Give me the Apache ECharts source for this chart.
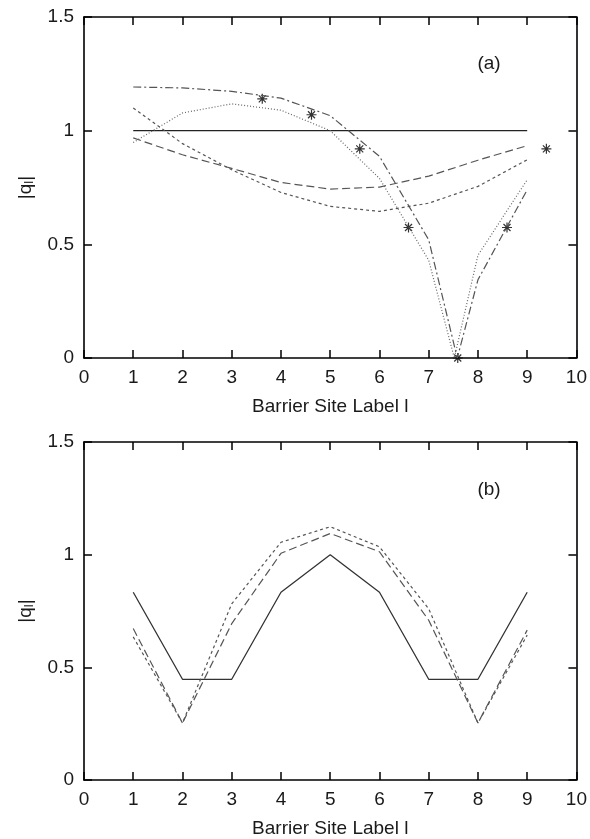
<!DOCTYPE html>
<html>
<head>
<meta charset="utf-8">
<script src="https://cdn.jsdelivr.net/npm/echarts@6/dist/echarts.min.js"></script>
<style>
  html, body { margin: 0; padding: 0; background: #fff; }
  #chart { width: 590px; height: 839px; }
</style>
</head>
<body>
<div id="chart"></div>
<script>
// barrier sites l = 1..9
var sites = [1, 2, 3, 4, 5, 6, 7, 8, 9];

// panel (a)
var aSolid = [1, 1, 1, 1, 1, 1, 1, 1, 1];
var aLongDash = [0.968, 0.894, 0.834, 0.772, 0.743, 0.752, 0.800, 0.870, 0.934];
var aShortDash = [1.100, 0.943, 0.828, 0.728, 0.667, 0.645, 0.681, 0.755, 0.872];
var aDottedX = [1, 2, 3, 4, 5, 6, 7, 7.52, 8, 9];
var aDottedY = [0.948, 1.078, 1.118, 1.090, 1.000, 0.790, 0.430, 0.0, 0.452, 0.784];
var aDashDotX = [1, 2, 3, 4, 5, 6, 7, 7.58, 8, 9];
var aDashDotY = [1.192, 1.188, 1.173, 1.143, 1.066, 0.887, 0.520, 0.0, 0.344, 0.740];
var aStarsX = [3.62, 4.62, 5.6, 6.59, 7.59, 8.59, 9.39];
var aStarsY = [1.14, 1.07, 0.92, 0.574, 0.0, 0.574, 0.92];

// panel (b)
var bSolid = [0.833, 0.447, 0.447, 0.833, 1.0, 0.833, 0.447, 0.447, 0.833];
var bLongDash = [0.672, 0.253, 0.694, 1.006, 1.094, 1.013, 0.709, 0.253, 0.665];
var bShortDash = [0.635, 0.253, 0.782, 1.055, 1.124, 1.035, 0.760, 0.253, 0.643];

var xTicks = [0, 10, 1];
var yTicks = [0, 1.5, 0.5];

function pairs(xs, ys) {
  return xs.map(function (x, i) { return [x, ys[i]]; });
}

var font = 'Liberation Sans, Arial, sans-serif';
var txt = '#1a1a1a';
var frame = { show: true, onZero: false, lineStyle: { color: '#000', width: 1.6 } };
var tick = { show: true, inside: true, length: 8, lineStyle: { color: '#000', width: 1.5 } };

function xAxes(gi) {
  return [
    {
      type: 'value', gridIndex: gi, position: 'bottom',
      min: xTicks[0], max: xTicks[1], interval: xTicks[2],
      axisLine: frame, axisTick: tick, splitLine: { show: false },
      axisLabel: { color: txt, fontSize: 19, fontFamily: font, margin: 10 },
      name: 'Barrier Site Label l', nameLocation: 'middle', nameGap: 39,
      nameTextStyle: { color: txt, fontSize: 19, fontFamily: font }
    },
    {
      type: 'value', gridIndex: gi, position: 'top',
      min: xTicks[0], max: xTicks[1], interval: xTicks[2],
      axisLine: frame, axisTick: tick, splitLine: { show: false },
      axisLabel: { show: false }
    }
  ];
}

function yAxes(gi) {
  return [
    {
      type: 'value', gridIndex: gi, position: 'left',
      min: yTicks[0], max: yTicks[1], interval: yTicks[2],
      axisLine: frame, axisTick: tick, splitLine: { show: false },
      axisLabel: { color: txt, fontSize: 19, fontFamily: font, margin: 10 },
      name: '|q{s|l}|', nameLocation: 'middle', nameGap: 48, nameRotate: 90,
      nameTextStyle: {
        color: txt, fontSize: 19, fontFamily: font,
        rich: { s: { fontSize: 13, fontFamily: font, color: txt, padding: [8, 0, 0, 0] } }
      }
    },
    {
      type: 'value', gridIndex: gi, position: 'right',
      min: yTicks[0], max: yTicks[1], interval: yTicks[2],
      axisLine: frame, axisTick: tick, splitLine: { show: false },
      axisLabel: { show: false }
    }
  ];
}

function line(data, xi, yi, dash, color, w) {
  return {
    type: 'line', xAxisIndex: xi, yAxisIndex: yi, data: data,
    symbol: 'none', silent: true,
    lineStyle: { color: color, width: w || 1.2, type: dash }
  };
}

var star = 'path://M10,0L10,20M0,10L20,10M3,3L17,17M3,17L17,3';

var chart = echarts.init(document.getElementById('chart'));
chart.setOption({
  animation: false,
  backgroundColor: '#fff',
  grid: [
    { left: 84, top: 17, width: 493, height: 341 },
    { left: 84, top: 442, width: 493, height: 340 }
  ],
  xAxis: xAxes(0).concat(xAxes(1)),
  yAxis: yAxes(0).concat(yAxes(1)),
  graphic: [
    { type: 'text', x: 489, y: 64, style: { text: '(a)', font: '19px ' + font, fill: txt, align: 'center', verticalAlign: 'middle' } },
    { type: 'text', x: 489, y: 490, style: { text: '(b)', font: '19px ' + font, fill: txt, align: 'center', verticalAlign: 'middle' } }
  ],
  series: [
    line(pairs(sites, aSolid), 0, 0, 'solid', '#222', 1.3),
    line(pairs(sites, aLongDash), 0, 0, [8, 4], '#555'),
    line(pairs(sites, aShortDash), 0, 0, [3, 3], '#555'),
    line(pairs(aDottedX, aDottedY), 0, 0, [1, 2], '#666'),
    line(pairs(aDashDotX, aDashDotY), 0, 0, [8, 3, 2, 3], '#555'),
    {
      type: 'scatter', xAxisIndex: 0, yAxisIndex: 0,
      data: pairs(aStarsX, aStarsY), symbol: star, symbolSize: 10, silent: true,
      itemStyle: { color: 'transparent', borderColor: '#000', borderWidth: 1.2 }
    },
    line(pairs(sites, bSolid), 2, 2, 'solid', '#333', 1.3),
    line(pairs(sites, bLongDash), 2, 2, [8, 4], '#555'),
    line(pairs(sites, bShortDash), 2, 2, [3, 3], '#555')
  ]
});
</script>
</body>
</html>
